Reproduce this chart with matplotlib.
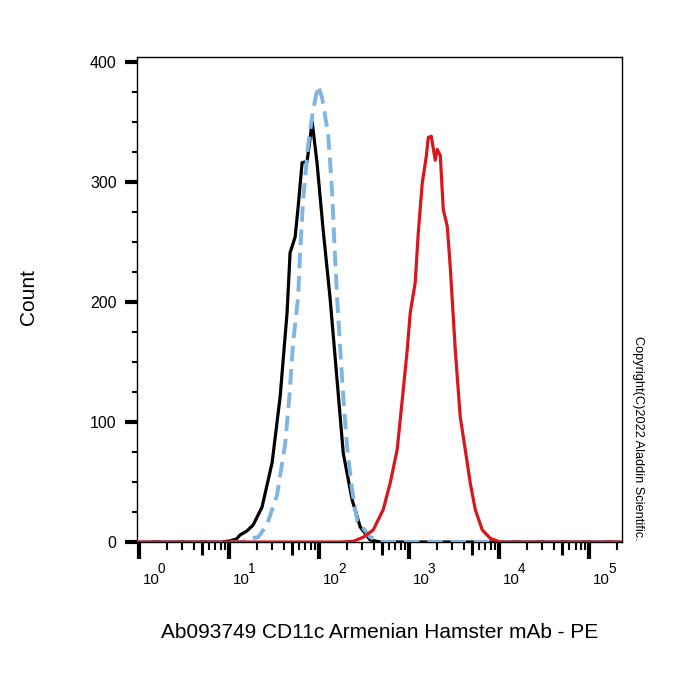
import numpy as np
import matplotlib
matplotlib.use("Agg")
import matplotlib.pyplot as plt
from matplotlib.ticker import LogLocator, FixedLocator, NullFormatter
import matplotlib.transforms as mtransforms

plt.rcParams['font.family'] = ['Liberation Sans', 'DejaVu Sans']

# ---- data ----
black_x = [0.94, 8.0, 10, 12, 13.1, 15.5, 18.3, 23, 29.8, 36.6, 43.7, 47.2, 53.7, 58, 64.2, 73, 83,
           94, 110, 131, 157, 184, 231, 284, 366, 470, 2.3e5]
black_y = [0, 0, 0.8, 2.5, 5.8, 9, 14, 29, 66, 121, 191, 241, 254, 279, 316, 317, 350,
           316, 260, 204, 135, 74, 35, 12.5, 1.7, 0, 0]

blue_x = [0.94, 14.2, 17, 20.8, 26, 33.8, 41.5, 46, 51, 58, 61, 65.9, 74.8, 85, 96.7,
          107, 125, 138, 146, 157, 170, 184, 203, 231, 262, 366, 511, 2.3e5]
blue_y = [0, 0, 3, 4, 14, 39, 81, 118, 166, 204, 241, 285, 330, 360, 380,
          370, 340, 293, 252, 204, 162, 121, 79, 43, 18, 4, 0, 0]

red_x = [0.94, 170, 237, 306, 396, 511, 611, 731, 831, 945, 1021, 1159, 1252, 1388, 1538,
         1619, 1747, 1936, 2037, 2202, 2377, 2633, 2842, 3230, 3670, 4171, 4741, 5390,
         6450, 7920, 10230, 2.3e5]
red_y = [0, 0, 0.5, 4, 10, 27, 49, 77, 118, 160, 191, 216, 257, 299, 321,
         337, 338, 318, 327, 322, 277, 263, 229, 160, 104, 77, 49, 27,
         10, 3, 0, 0]

y_ticks = [0, 100, 200, 300, 400]
x_ticks = [1, 10, 100, 1000, 10000, 100000]
x_tick_base = '10'
x_tick_exponents = ['0', '1', '2', '3', '4', '5']

x_label = 'Ab093749 CD11c Armenian Hamster mAb - PE'
y_label = 'Count'
copyright_text = 'Copyright(C)2022 Aladdin Scientific.'

# ---- figure ----
fig = plt.figure(figsize=(7, 7), dpi=100)
ax = fig.add_axes([137/700, 1 - 542/700, (622 - 137)/700, (542 - 57)/700])

ax.plot(black_x, black_y, color='black', lw=2.3, zorder=3)
ax.plot(blue_x, blue_y, color='#7fb5e3', lw=2.8, dashes=(4, 2), zorder=4)
ax.plot(red_x, red_y, color='#d9161c', lw=2.3, zorder=5)

ax.set_xscale('log')
ax.set_xlim(0.94, 2.3e5)
ax.set_ylim(0, 404)

for s in ax.spines.values():
    s.set_linewidth(1.0)
    s.set_color('black')

# y ticks
ax.set_yticks(y_ticks)
ax.set_yticklabels([str(v) for v in y_ticks])
ax.yaxis.set_minor_locator(FixedLocator([v for v in range(0, 401, 25) if v % 100 != 0]))
ax.tick_params(axis='y', which='major', direction='out', length=8.6, width=3, pad=6,
               labelsize=11.5)
ax.tick_params(axis='y', which='minor', direction='out', length=3.6, width=1.5)

# x ticks
ax.xaxis.set_major_locator(FixedLocator(x_ticks))
ax.xaxis.set_major_formatter(NullFormatter())
ax.xaxis.set_minor_locator(LogLocator(base=10, subs=[2, 3, 4, 6, 7, 8, 9], numticks=20))
ax.xaxis.set_minor_formatter(NullFormatter())
ax.tick_params(axis='x', which='major', direction='out', length=12, width=3)
ax.tick_params(axis='x', which='minor', direction='out', length=6, width=1.5)

# x tick labels "10" with a large raised exponent
blend = mtransforms.blended_transform_factory(ax.transData, ax.transAxes)
for xv, ex in zip(x_ticks, x_tick_exponents):
    t_base = blend + mtransforms.ScaledTranslation(3.5/100, -42/100, fig.dpi_scale_trans)
    ax.text(xv, 0, x_tick_base, transform=t_base, fontsize=10.8,
            ha='left', va='baseline', clip_on=False)
    t_exp = blend + mtransforms.ScaledTranslation(18.5/100, -31/100, fig.dpi_scale_trans)
    ax.text(xv, 0, ex, transform=t_exp, fontsize=9.8,
            ha='left', va='baseline', clip_on=False)

# medium ticks at 5 x 10^k
sec = ax.secondary_xaxis('bottom')
sec.xaxis.set_major_locator(FixedLocator([5 * 10**k for k in range(0, 6)]))
sec.xaxis.set_major_formatter(NullFormatter())
sec.xaxis.set_minor_locator(FixedLocator([]))
sec.tick_params(axis='x', which='major', direction='out', length=9, width=2.2)
sec.spines['bottom'].set_visible(False)

# labels
ax.set_xlabel(x_label, fontsize=15)
ax.xaxis.set_label_coords(0.5, -0.168)
ax.set_ylabel(y_label, fontsize=15)
ax.yaxis.set_label_coords(-0.204, 0.505)

fig.text(638/700, 1 - 438/700, copyright_text, rotation=-90, fontsize=9.2,
         ha='center', va='center')

fig.savefig('out.png', dpi=100, facecolor='white')
